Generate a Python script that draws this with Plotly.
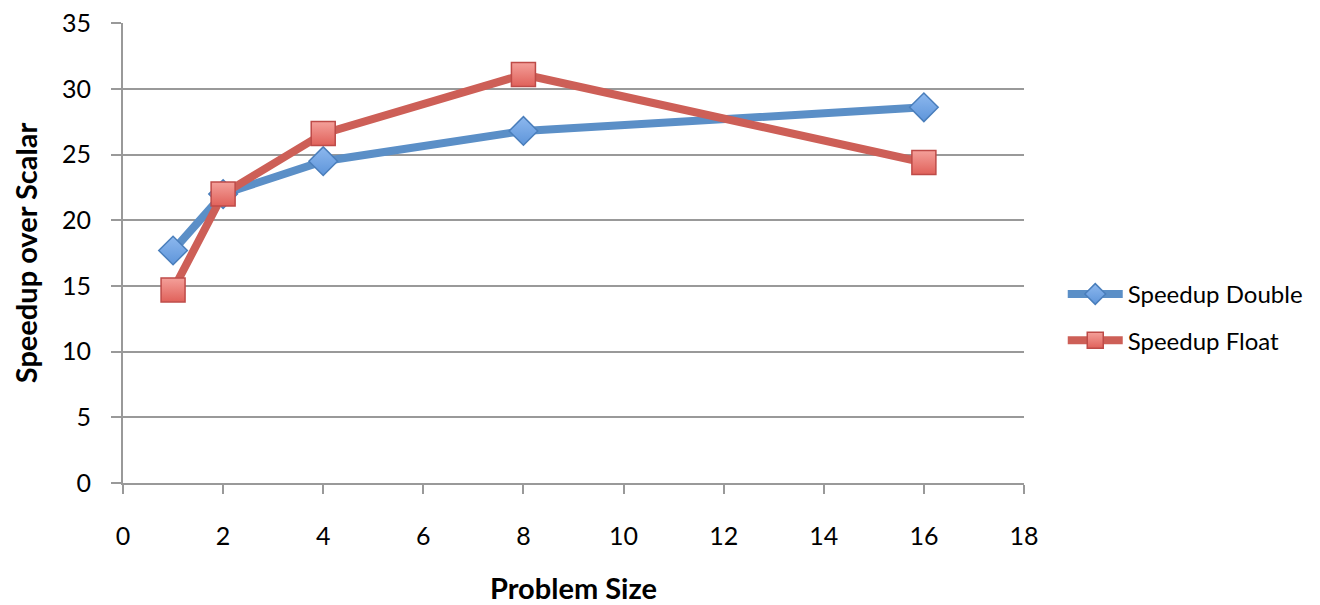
import plotly.graph_objects as go

problem_size = [1, 2, 4, 8, 16]
speedup_double = [17.7, 22.0, 24.5, 26.8, 28.6]
speedup_float = [14.7, 22.0, 26.6, 31.1, 24.4]

font_family = "Lato, 'Open Sans', sans-serif"

fig = go.Figure()
fig.add_trace(go.Scatter(
    x=problem_size, y=speedup_double, name="Speedup Double",
    mode="lines+markers", legendgroup="d",
    line=dict(color="#5B8FC7", width=8),
    marker=dict(symbol="diamond", size=22, color="#8DB8EE",
                line=dict(color="#4A7EBB", width=1.5),
                gradient=dict(type="vertical", color="#5E95DA")),
))
fig.add_trace(go.Scatter(
    x=problem_size, y=speedup_float, name="Speedup Float",
    mode="lines+markers", legendgroup="f",
    line=dict(color="#CD5F57", width=8),
    marker=dict(symbol="square", size=24, color="#F4A09A",
                line=dict(color="#BE4B48", width=1.5),
                gradient=dict(type="vertical", color="#E0615A")),
))

fig.update_layout(
    width=1312, height=597,
    margin=dict(l=115, r=279, t=15, b=122),
    paper_bgcolor="white", plot_bgcolor="white",
    font=dict(family=font_family, size=25, color="black"),
    showlegend=True,
    legend=dict(x=1.043, y=0.36, xanchor="left", yanchor="middle",
                font=dict(size=24), tracegroupgap=12, itemwidth=55),
    xaxis=dict(
        range=[0, 18], tickvals=list(range(0, 19, 2)),
        showgrid=False, zeroline=False, automargin=False,
        showline=True, linecolor="#999999", linewidth=2,
        ticks="outside", ticklen=9, tickcolor="#999999", tickwidth=2,
        tickfont=dict(size=25), ticklabelstandoff=21, ticklabeloverflow="allow",
        title=dict(text="<b>Problem Size</b>", font=dict(size=29), standoff=38),
    ),
    yaxis=dict(
        range=[0, 35.02], tickvals=list(range(0, 36, 5)),
        showgrid=True, gridcolor="#999999", gridwidth=2,
        zeroline=False, automargin=False,
        showline=True, linecolor="#999999", linewidth=2,
        ticks="outside", ticklen=10, tickcolor="#999999", tickwidth=2,
        tickfont=dict(size=25), ticklabelstandoff=15, ticklabeloverflow="allow",
        title=dict(text="<b>Speedup over Scalar</b>", font=dict(size=29), standoff=20),
    ),
)

fig.write_html("out.html")
